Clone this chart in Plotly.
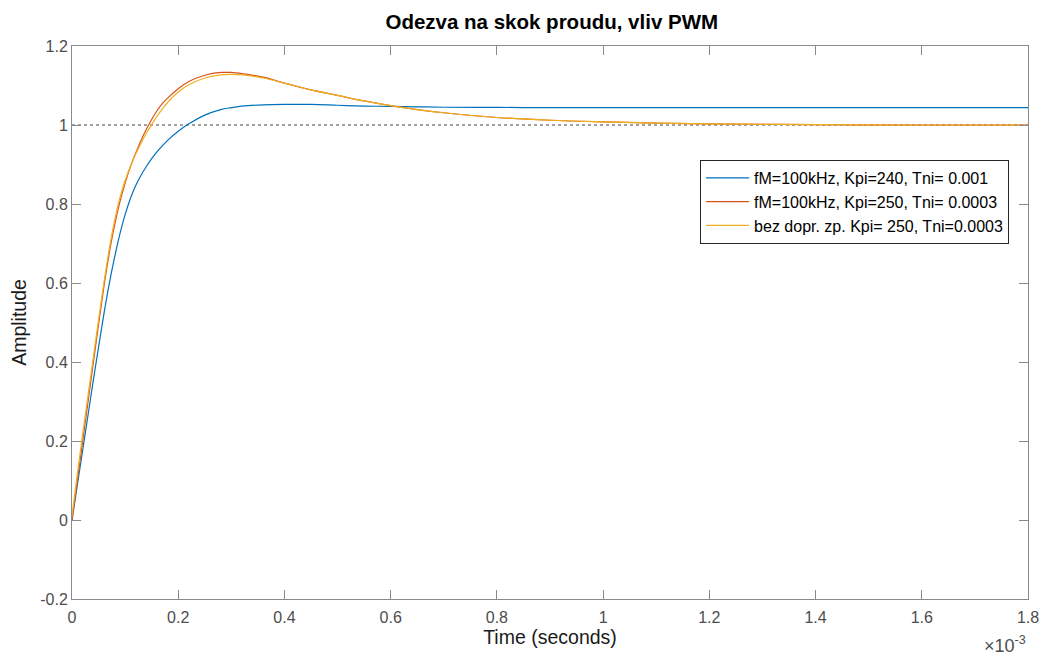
import plotly.graph_objects as go

# Time axis in units of 1e-3 s (the axis carries a x10^-3 multiplier)
time_ms = [0, 0.01, 0.02, 0.03, 0.04, 0.05, 0.06, 0.07, 0.08, 0.09, 0.10,
           0.11, 0.12, 0.13, 0.14, 0.15, 0.16, 0.17, 0.18, 0.20, 0.22, 0.25,
           0.28, 0.30, 0.32, 0.36, 0.40, 0.45, 0.50, 0.55, 0.60, 0.65, 0.70,
           0.80, 0.90, 1.00, 1.10, 1.20, 1.40, 1.60, 1.80]

# fM=100kHz, Kpi=240, Tni=0.001
resp_kpi240 = [0, 0.088, 0.176, 0.264, 0.352, 0.438, 0.521, 0.597, 0.664, 0.723, 0.773,
               0.814, 0.847, 0.873, 0.895, 0.915, 0.932, 0.947, 0.961, 0.984, 1.003, 1.025,
               1.039, 1.044, 1.048, 1.051, 1.052, 1.052, 1.050, 1.048, 1.047, 1.046, 1.045,
               1.0445, 1.044, 1.044, 1.044, 1.044, 1.044, 1.044, 1.044]

# fM=100kHz, Kpi=250, Tni=0.0003
resp_kpi250 = [0, 0.099, 0.198, 0.297, 0.396, 0.495, 0.590, 0.674, 0.745, 0.804, 0.853,
               0.894, 0.929, 0.961, 0.989, 1.014, 1.036, 1.054, 1.068, 1.092, 1.110, 1.126,
               1.133, 1.133, 1.130, 1.121, 1.106, 1.089, 1.075, 1.061, 1.049, 1.039, 1.031,
               1.019, 1.012, 1.008, 1.005, 1.003, 1.001, 1.000, 1.000]

# without transport delay, Kpi=250, Tni=0.0003
resp_nodelay = [0.01, 0.1165, 0.217, 0.3135, 0.410, 0.507, 0.600, 0.6845, 0.757, 0.815, 0.8595,
                0.8955, 0.9265, 0.954, 0.979, 1.001, 1.022, 1.040, 1.057, 1.0835, 1.102, 1.119,
                1.127, 1.128, 1.127, 1.119, 1.106, 1.089, 1.075, 1.061, 1.049, 1.039, 1.031,
                1.019, 1.012, 1.008, 1.005, 1.003, 1.001, 1.000, 1.000]

series_names = ["fM=100kHz, Kpi=240, Tni= 0.001",
                "fM=100kHz, Kpi=250, Tni= 0.0003",
                "bez dopr. zp. Kpi= 250, Tni=0.0003"]
series_colors = ["#0072BD", "#D95319", "#EDB120"]

x_ticks = [0, 0.2, 0.4, 0.6, 0.8, 1.0, 1.2, 1.4, 1.6, 1.8]
x_ticktext = ["0", "0.2", "0.4", "0.6", "0.8", "1", "1.2", "1.4", "1.6", "1.8"]
y_ticks = [-0.2, 0, 0.2, 0.4, 0.6, 0.8, 1.0, 1.2]
y_ticktext = ["-0.2", "0", "0.2", "0.4", "0.6", "0.8", "1", "1.2"]

FONT = "Liberation Sans, Arial, Helvetica, sans-serif"
AXIS_GRAY = "#8a8a8a"
TICK_TEXT = "#4d4d4d"

fig = go.Figure()
for ys, name, col in zip([resp_kpi240, resp_kpi250, resp_nodelay], series_names, series_colors):
    fig.add_trace(go.Scatter(
        x=time_ms, y=ys, mode="lines", name=name,
        line=dict(color=col, width=1.2, shape="spline", smoothing=1.0),
    ))

# steady-state reference at 1.0
fig.add_shape(type="line", xref="x", yref="y", x0=0, x1=1.8, y0=1, y1=1,
              line=dict(color="#444444", width=1, dash="dot"), layer="below")

axis_common = dict(
    showgrid=False, zeroline=False, showline=True, linecolor=AXIS_GRAY, linewidth=1,
    mirror="ticks", ticks="inside", ticklen=9, tickcolor=AXIS_GRAY, tickwidth=1,
    tickfont=dict(family=FONT, size=16, color=TICK_TEXT),
)

fig.update_xaxes(range=[0, 1.8], tickvals=x_ticks, ticktext=x_ticktext, ticklabelstandoff=4,
                 title=dict(text="Time (seconds)", font=dict(family=FONT, size=19.5, color="#1a1a1a"),
                            standoff=0),
                 **axis_common)
fig.update_yaxes(range=[-0.2, 1.2], tickvals=y_ticks, ticktext=y_ticktext,
                 title=dict(text="Amplitude", font=dict(family=FONT, size=19.5, color="#1a1a1a"),
                            standoff=8),
                 **axis_common)

fig.add_annotation(xref="paper", yref="paper", x=1.0, y=-0.083, xanchor="right", yanchor="middle",
                   text="×10<sup>-3</sup>", showarrow=False,
                   font=dict(family=FONT, size=18, color=TICK_TEXT))

fig.update_layout(
    width=1051, height=655,
    margin=dict(l=72, r=19, t=46, b=56),
    paper_bgcolor="white", plot_bgcolor="white",
    title=dict(text="<b>Odezva na skok proudu, vliv PWM</b>", x=0.525, xanchor="center",
               y=0.966, yanchor="middle", font=dict(family=FONT, size=20.5, color="black")),
    legend=dict(x=0.657, y=0.794, xanchor="left", yanchor="top",
                bgcolor="white", bordercolor="#262626", borderwidth=1,
                font=dict(family=FONT, size=16, color="black"),
                itemwidth=43, tracegroupgap=0),
    showlegend=True,
)

fig.write_html("out.html")
